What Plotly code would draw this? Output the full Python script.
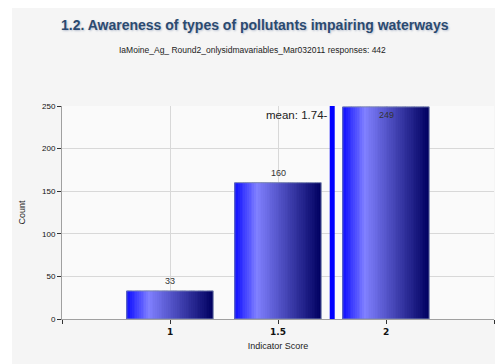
import plotly.graph_objects as go

# Data
categories = [1.0, 1.5, 2.0]
counts = [33, 160, 249]
mean_score = 1.74
title_text = "1.2. Awareness of types of pollutants impairing waterways"
subtitle_text = "IaMoine_Ag_ Round2_onlysidmavariables_Mar032011 responses: 442"
x_tickvals = [0.5, 1.0, 1.5, 2.0, 2.5]
x_ticktext = ["", "1", "1.5", "2", ""]
y_tickvals = [0, 50, 100, 150, 200, 250]

BAR_W = 0.4
N = 48


def lerp(c1, c2, t):
    return tuple(int(round(a + (b - a) * t)) for a, b in zip(c1, c2))


c_left = (10, 10, 255)
c_peak = (128, 128, 255)
c_right = (0, 0, 96)
peak = 0.26


def grad(t):
    if t <= peak:
        return lerp(c_left, c_peak, t / peak)
    return lerp(c_peak, c_right, (t - peak) / (1 - peak))


fig = go.Figure()
sw = BAR_W / N
for i in range(N):
    t = (i + 0.5) / N
    r, g, b = grad(t)
    fig.add_trace(go.Bar(
        x=categories, y=counts, width=sw, offset=-BAR_W / 2 + i * sw,
        marker=dict(color=f"rgb({r},{g},{b})", line=dict(width=0)),
        showlegend=False, hoverinfo="skip"))

# outline
fig.add_trace(go.Bar(
    x=categories, y=counts, width=BAR_W,
    marker=dict(color="rgba(0,0,0,0)", line=dict(width=1, color="#7a86b0")),
    showlegend=False, hoverinfo="skip"))

fig.update_layout(barmode="overlay")

shapes = [
    dict(type="rect", xref="paper", yref="paper", x0=-0.1157, x1=1.05, y0=-0.3, y1=1.7,
         fillcolor="#F5F5F5", line=dict(width=0), layer="below"),
    dict(type="rect", xref="paper", yref="paper", x0=0, x1=1, y0=0, y1=1,
         fillcolor="#FAFAFA", line=dict(width=0), layer="below"),
    dict(type="line", xref="x", yref="paper", x0=mean_score + 0.011, x1=mean_score + 0.011, y0=0, y1=1,
         line=dict(color="#0000FF", width=5)),
]

annotations = [
    dict(text=title_text, xref="paper", yref="paper", x=0.446, y=1.382, xanchor="center", yanchor="middle",
         showarrow=False,
         font=dict(family="Liberation Sans", size=14, color="#2B4A70", weight="bold",
                   shadow="1px 1px 2px #B8C0D0")),
    dict(text=subtitle_text, xref="paper", yref="paper", x=0.440, y=1.265, xanchor="center", yanchor="middle",
         showarrow=False, font=dict(family="Liberation Sans", size=8.5, color="#222222")),
    dict(text=f"mean: {mean_score:.2f}-", xref="x", yref="paper", x=mean_score + 0.002, y=0.96,
         xanchor="right", yanchor="middle", showarrow=False,
         font=dict(family="Liberation Sans", size=11.5, color="#222222")),
]

# value labels above bars (last one inside since it reaches the top)
for xv, yv in zip(categories, counts):
    inside = yv > 240
    annotations.append(dict(
        text=str(yv), x=xv, y=yv, xref="x", yref="y", showarrow=False,
        xanchor="center", yanchor="top" if inside else "bottom",
        yshift=-1 if inside else 3,
        font=dict(family="Liberation Sans", size=9, color="#333333")))

fig.update_layout(
    width=495, height=356,
    margin=dict(l=54, r=9, t=98, b=45, pad=0),
    paper_bgcolor="white",
    plot_bgcolor="rgba(0,0,0,0)",
    shapes=shapes,
    annotations=annotations,
    xaxis=dict(range=[0.5, 2.5], tickvals=x_tickvals, ticktext=x_ticktext,
               showgrid=True, gridcolor="#D8D8D8", gridwidth=1,
               showline=True, linecolor="#A0A0A0", linewidth=1,
               ticks="outside", ticklen=4, tickcolor="#333333",
               tickfont=dict(family="DejaVu Sans", size=9, color="#111111", weight="bold"),
               title=dict(text="Indicator Score", standoff=6,
                          font=dict(family="Liberation Sans", size=9, color="#222222")),
               zeroline=False, fixedrange=True, automargin=False),
    yaxis=dict(range=[0, 250], tickvals=y_tickvals,
               showgrid=True, gridcolor="#D8D8D8", gridwidth=1,
               showline=True, linecolor="#A0A0A0", linewidth=1,
               ticks="outside", ticklen=4, tickcolor="#333333",
               tickfont=dict(family="Liberation Sans", size=8, color="#111111"),
               title=dict(text="Count", standoff=14,
                          font=dict(family="Liberation Sans", size=9, color="#222222")),
               zeroline=False, fixedrange=True, automargin=False),
)

fig.write_html("out.html")
